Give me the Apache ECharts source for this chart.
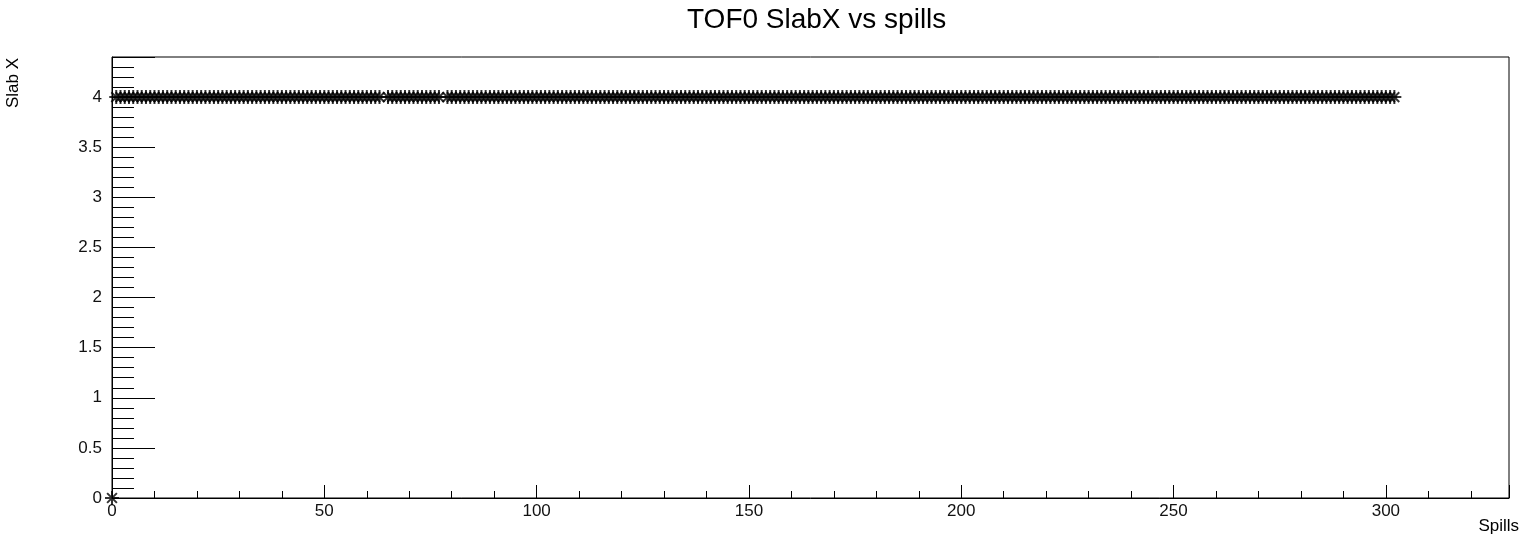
<!DOCTYPE html>
<html>
<head>
<meta charset="utf-8">
<title>TOF0 SlabX vs spills</title>
<script src="https://cdn.jsdelivr.net/npm/echarts@6/dist/echarts.min.js"></script>
<style>
  html, body { margin: 0; padding: 0; background: #fff; }
  #chart { width: 1522px; height: 541px; }
</style>
</head>
<body>
<div id="chart"></div>
<script>
// spill numbers (x) and the TOF0 slab X hit (y), one entry per spill
const spills = [
  0,
  1, 2, 3, 4, 5, 6, 7, 8, 9, 10, 11, 12, 13, 14, 15, 16, 17, 18, 19, 20,
  21, 22, 23, 24, 25, 26, 27, 28, 29, 30, 31, 32, 33, 34, 35, 36, 37, 38, 39, 40,
  41, 42, 43, 44, 45, 46, 47, 48, 49, 50, 51, 52, 53, 54, 55, 56, 57, 58, 59, 60,
  61, 62, 63, 65, 66, 67, 68, 69, 70, 71, 72, 73, 74, 75, 76, 77, 79, 80,
  81, 82, 83, 84, 85, 86, 87, 88, 89, 90, 91, 92, 93, 94, 95, 96, 97, 98, 99, 100,
  101, 102, 103, 104, 105, 106, 107, 108, 109, 110, 111, 112, 113, 114, 115, 116, 117, 118, 119, 120,
  121, 122, 123, 124, 125, 126, 127, 128, 129, 130, 131, 132, 133, 134, 135, 136, 137, 138, 139, 140,
  141, 142, 143, 144, 145, 146, 147, 148, 149, 150, 151, 152, 153, 154, 155, 156, 157, 158, 159, 160,
  161, 162, 163, 164, 165, 166, 167, 168, 169, 170, 171, 172, 173, 174, 175, 176, 177, 178, 179, 180,
  181, 182, 183, 184, 185, 186, 187, 188, 189, 190, 191, 192, 193, 194, 195, 196, 197, 198, 199, 200,
  201, 202, 203, 204, 205, 206, 207, 208, 209, 210, 211, 212, 213, 214, 215, 216, 217, 218, 219, 220,
  221, 222, 223, 224, 225, 226, 227, 228, 229, 230, 231, 232, 233, 234, 235, 236, 237, 238, 239, 240,
  241, 242, 243, 244, 245, 246, 247, 248, 249, 250, 251, 252, 253, 254, 255, 256, 257, 258, 259, 260,
  261, 262, 263, 264, 265, 266, 267, 268, 269, 270, 271, 272, 273, 274, 275, 276, 277, 278, 279, 280,
  281, 282, 283, 284, 285, 286, 287, 288, 289, 290, 291, 292, 293, 294, 295, 296, 297, 298, 299, 300,
  301, 302
]
const slabX = [
  0,
  4, 4, 4, 4, 4, 4, 4, 4, 4, 4, 4, 4, 4, 4, 4, 4, 4, 4, 4, 4,
  4, 4, 4, 4, 4, 4, 4, 4, 4, 4, 4, 4, 4, 4, 4, 4, 4, 4, 4, 4,
  4, 4, 4, 4, 4, 4, 4, 4, 4, 4, 4, 4, 4, 4, 4, 4, 4, 4, 4, 4,
  4, 4, 4, 4, 4, 4, 4, 4, 4, 4, 4, 4, 4, 4, 4, 4, 4, 4,
  4, 4, 4, 4, 4, 4, 4, 4, 4, 4, 4, 4, 4, 4, 4, 4, 4, 4, 4, 4,
  4, 4, 4, 4, 4, 4, 4, 4, 4, 4, 4, 4, 4, 4, 4, 4, 4, 4, 4, 4,
  4, 4, 4, 4, 4, 4, 4, 4, 4, 4, 4, 4, 4, 4, 4, 4, 4, 4, 4, 4,
  4, 4, 4, 4, 4, 4, 4, 4, 4, 4, 4, 4, 4, 4, 4, 4, 4, 4, 4, 4,
  4, 4, 4, 4, 4, 4, 4, 4, 4, 4, 4, 4, 4, 4, 4, 4, 4, 4, 4, 4,
  4, 4, 4, 4, 4, 4, 4, 4, 4, 4, 4, 4, 4, 4, 4, 4, 4, 4, 4, 4,
  4, 4, 4, 4, 4, 4, 4, 4, 4, 4, 4, 4, 4, 4, 4, 4, 4, 4, 4, 4,
  4, 4, 4, 4, 4, 4, 4, 4, 4, 4, 4, 4, 4, 4, 4, 4, 4, 4, 4, 4,
  4, 4, 4, 4, 4, 4, 4, 4, 4, 4, 4, 4, 4, 4, 4, 4, 4, 4, 4, 4,
  4, 4, 4, 4, 4, 4, 4, 4, 4, 4, 4, 4, 4, 4, 4, 4, 4, 4, 4, 4,
  4, 4, 4, 4, 4, 4, 4, 4, 4, 4, 4, 4, 4, 4, 4, 4, 4, 4, 4, 4,
  4, 4
]
// axis ranges
const xRange = [0, 329]
const yRange = [0, 4.4]

const font = 'Liberation Sans, Arial, sans-serif'
// ROOT marker style 3 (asterisk): + and x overlaid
const starSymbol = 'path://M0,5L10,5M5,0L5,10M1.5,1.5L8.5,8.5M8.5,1.5L1.5,8.5'

const chartInstance = echarts.init(document.getElementById('chart'), null, { renderer: 'canvas' })

const option = {
  animation: false,
  backgroundColor: '#fff',
  title: {
    text: 'TOF0 SlabX vs spills',
    left: 687,
    top: 6,
    padding: 0,
    textStyle: {
      fontFamily: font,
      fontSize: 28,
      fontWeight: 'normal',
      color: '#000'
    }
  },
  grid: {
    left: 112,
    right: 13,
    top: 57,
    bottom: 43,
    show: true,
    borderColor: '#000',
    borderWidth: 1,
    backgroundColor: 'transparent'
  },
  xAxis: {
    type: 'value',
    min: xRange[0],
    max: xRange[1],
    interval: 50,
    name: 'Spills',
    nameLocation: 'end',
    nameGap: 10,
    nameTextStyle: {
      fontFamily: font,
      fontSize: 17,
      color: '#000',
      align: 'right',
      verticalAlign: 'top',
      padding: [20, 0, 0, 0]
    },
    axisLine: { lineStyle: { color: '#000', width: 1 } },
    axisTick: { inside: true, length: 13, lineStyle: { color: '#000' } },
    minorTick: { show: true, splitNumber: 5, length: 7, lineStyle: { color: '#000' } },
    splitLine: { show: false },
    axisLabel: {
      showMaxLabel: false,
      margin: 5,
      fontFamily: font,
      fontSize: 17,
      color: '#111'
    }
  },
  yAxis: {
    type: 'value',
    min: yRange[0],
    max: yRange[1],
    interval: 0.5,
    name: 'Slab X',
    nameLocation: 'end',
    nameRotate: 90,
    nameGap: -1,
    nameTextStyle: {
      fontFamily: font,
      fontSize: 17,
      color: '#000',
      align: 'right',
      verticalAlign: 'bottom',
      padding: [0, 0, 90, 0]
    },
    axisLine: { show: true, lineStyle: { color: '#000', width: 1 } },
    axisTick: { show: true, inside: true, length: 43, lineStyle: { color: '#000' } },
    minorTick: { show: true, splitNumber: 5, length: 22, lineStyle: { color: '#000' } },
    splitLine: { show: false },
    axisLabel: {
      showMaxLabel: false,
      margin: 10,
      fontFamily: font,
      fontSize: 17,
      color: '#111'
    }
  },
  series: [
    {
      type: 'scatter',
      data: spills.map((s, i) => [s, slabX[i]]),
      symbol: starSymbol,
      symbolSize: 14,
      itemStyle: {
        color: 'transparent',
        borderColor: '#000',
        borderWidth: 2
      },
      emphasis: { disabled: true }
    }
  ]
}
chartInstance.setOption(option)
</script>
</body>
</html>
